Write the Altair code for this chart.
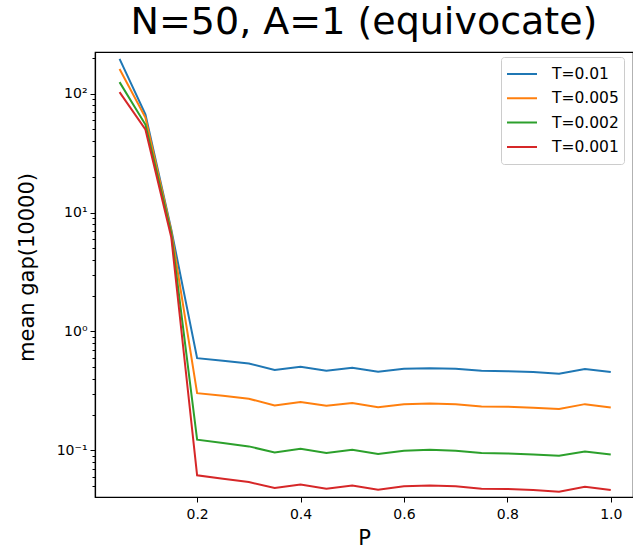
import altair as alt
import pandas as pd

# P values on the x axis
p_values = [0.05, 0.10, 0.15, 0.20, 0.25, 0.30, 0.35, 0.40, 0.45, 0.50,
            0.55, 0.60, 0.65, 0.70, 0.75, 0.80, 0.85, 0.90, 0.95, 1.00]

series_names = ["T=0.01", "T=0.005", "T=0.002", "T=0.001"]
series_colors = ["#1f77b4", "#ff7f0e", "#2ca02c", "#d62728"]

gap_t_0010 = [196, 67, 7.2, 0.597, 0.567, 0.539, 0.474, 0.505, 0.467, 0.495,
              0.458, 0.486, 0.492, 0.486, 0.467, 0.464, 0.456, 0.441, 0.483, 0.456]
gap_t_0005 = [161, 63, 7.0, 0.303, 0.288, 0.272, 0.239, 0.255, 0.237, 0.250,
              0.231, 0.245, 0.248, 0.245, 0.234, 0.233, 0.228, 0.223, 0.245, 0.230]
gap_t_0002 = [125, 55, 6.7, 0.1230, 0.1153, 0.1081, 0.0962, 0.1033, 0.0950, 0.1014,
              0.0932, 0.0994, 0.1014, 0.0994, 0.0950, 0.0944, 0.0926, 0.0903, 0.0981, 0.0926]
gap_t_0001 = [103, 50, 6.2, 0.0617, 0.0578, 0.0542, 0.0483, 0.0518, 0.0477, 0.0508,
              0.0467, 0.0499, 0.0506, 0.0499, 0.0477, 0.0474, 0.0465, 0.0450, 0.0495, 0.0465]

series_values = [gap_t_0010, gap_t_0005, gap_t_0002, gap_t_0001]

rows = []
for name, vals in zip(series_names, series_values):
    for p, v in zip(p_values, vals):
        rows.append({"P": p, "gap": v, "T": name})
df = pd.DataFrame(rows)

major_ticks = [0.1, 1, 10, 100]
minor_ticks = [0.05, 0.06, 0.07, 0.08, 0.09,
               0.2, 0.3, 0.4, 0.5, 0.6, 0.7, 0.8, 0.9,
               2, 3, 4, 5, 6, 7, 8, 9,
               20, 30, 40, 50, 60, 70, 80, 90, 200]
is_major = "datum.value == 0.1 || datum.value == 1 || datum.value == 10 || datum.value == 100"

FONT = "DejaVu Sans"

chart = alt.Chart(df).mark_line(strokeWidth=2, clip=True).encode(
    x=alt.X("P:Q",
            scale=alt.Scale(domain=[0.0025, 1.043], nice=False, zero=False),
            axis=alt.Axis(values=[0.2, 0.4, 0.6, 0.8, 1.0], format=".1f",
                          title="P", tickSize=5, labelPadding=5,
                          titlePadding=6, labelFlush=False)),
    y=alt.Y("gap:Q",
            scale=alt.Scale(type="log", domain=[0.04058, 224], nice=False),
            axis=alt.Axis(values=major_ticks + minor_ticks,
                          labelExpr="datum.value == 100 ? '10²' : datum.value == 10 ? '10¹' : "
                                    "datum.value == 1 ? '10⁰' : datum.value == 0.1 ? '10⁻¹' : ''",
                          tickSize={"condition": {"test": is_major, "value": 5}, "value": 3},
                          labelOverlap=False, labelPadding=3,
                          title="mean gap(10000)", titleX=-58, titleY=215)),
    color=alt.Color("T:N",
                    scale=alt.Scale(domain=series_names, range=series_colors),
                    sort=series_names,
                    legend=alt.Legend(title=None, orient="none", legendX=406, legendY=5,
                                      symbolType="stroke", symbolSize=900,
                                      symbolStrokeWidth=2, labelFontSize=15.5,
                                      labelOffset=14, clipHeight=24, rowPadding=0.3,
                                      padding=5,
                                      strokeColor="#cccccc", cornerRadius=3,
                                      fillColor="white", labelFont=FONT)),
).properties(
    width=538,
    height=445,
    autosize="none",
    padding={"left": 95, "top": 52, "right": 0, "bottom": 52},
    title=alt.Title("N=50, A=1 (equivocate)", fontSize=38, font=FONT,
                    fontWeight="normal", baseline="bottom", offset=5, dy=34,
                    anchor="middle", color="black"),
).configure_view(
    stroke="black", strokeWidth=1.2
).configure_axis(
    grid=False, domainColor="black", domainWidth=1.2, tickColor="black",
    labelColor="black", labelFont=FONT, labelFontSize=14,
    titleFont=FONT, titleFontSize=21, titleFontWeight="normal", titleColor="black"
)

chart.save("out.html", embed_options={"renderer": "svg", "actions": False})
